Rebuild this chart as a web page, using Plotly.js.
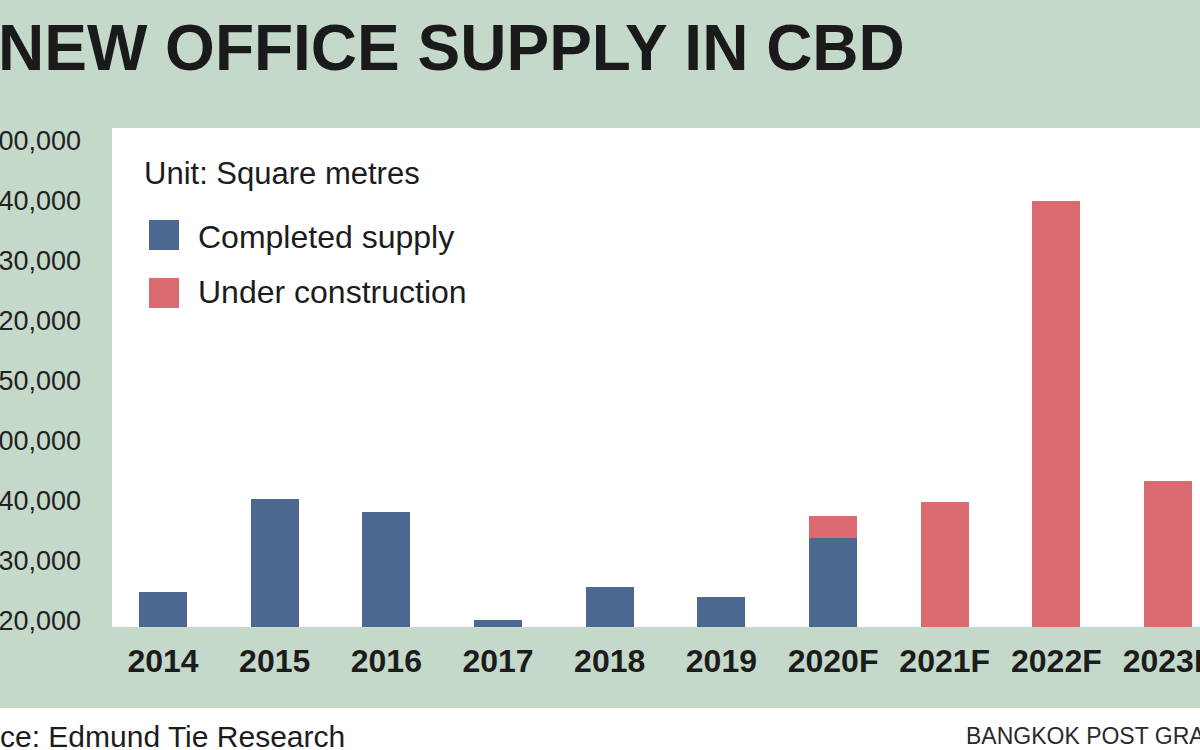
<!DOCTYPE html>
<html>
<head>
<meta charset="utf-8">
<script src="https://cdn.plot.ly/plotly-3.0.1.min.js"></script>
<style>
  html, body { margin: 0; padding: 0; background: #c5d9ca; }
  #chart { width: 1200px; height: 750px; }
</style>
</head>
<body>
<div id="chart"></div>
<script>
// ---- data ----
const categories = ['2014', '2015', '2016', '2017', '2018', '2019', '2020F', '2021F', '2022F', '2023F'];
const completedSupply = [11700, 42800, 38200, 2200, 13300, 10100, 29800, null, null, null];
const underConstruction = [null, null, null, null, null, null, 7100, 41700, 142000, 48700];
const yTickValues = [0, 20000, 40000, 60000, 80000, 100000, 120000, 140000, 160000];
const yTickLabels = ['20,000', '30,000', '40,000', '00,000', '50,000', '20,000', '30,000', '40,000', '00,000'];
const seriesNames = ['Completed supply', 'Under construction'];
const unitLabel = 'Unit: Square metres';
const chartTitle = 'NEW OFFICE SUPPLY IN CBD';
const sourceText = 'ce: Edmund Tie Research';
const creditText = 'BANGKOK POST GRAPHICS';

// ---- layout helpers (pixel -> paper) ----
const ML = 112, MT = 128, MB = 123, W = 1200, H = 750;
const PW = W - ML, PH = H - MT - MB;
const X = px => (px - ML) / PW;
const Y = py => 1 - (py - MT) / PH;

const BLUE = '#4d6890', RED = '#db6b71', GREEN = '#c5d9ca', INK = '#1c1c1c';
const SANS = 'Liberation Sans, Arial, sans-serif';

const traces = [
  { type: 'bar', name: seriesNames[0], x: categories, y: completedSupply,
    marker: { color: BLUE, line: { width: 0 } }, width: 0.43, hoverinfo: 'x+y' },
  { type: 'bar', name: seriesNames[1], x: categories, y: underConstruction,
    marker: { color: RED, line: { width: 0 } }, width: 0.43, hoverinfo: 'x+y' }
];

const layout = {
  width: W, height: H,
  margin: { l: ML, r: 0, t: MT, b: MB, pad: 0 },
  paper_bgcolor: GREEN,
  plot_bgcolor: '#ffffff',
  barmode: 'stack',
  showlegend: false,
  xaxis: {
    type: 'category',
    range: [-0.457, 9.286],
    showgrid: false, zeroline: false, showline: false, ticks: '',
    tickangle: 0,
    tickfont: { family: SANS, size: 32, color: INK, weight: 'bold' },
    ticklabelstandoff: 12,
    fixedrange: true
  },
  yaxis: {
    range: [0, 166200],
    tickvals: yTickValues,
    ticktext: yTickLabels,
    showgrid: false, zeroline: false, showline: false, ticks: '',
    tickfont: { family: SANS, size: 27, color: '#222222' },
    ticklabelstandoff: 30,
    ticklabelshift: -6,
    fixedrange: true
  },
  shapes: [
    { type: 'rect', xref: 'paper', yref: 'paper', layer: 'below',
      x0: X(-20), x1: X(1220), y0: Y(708), y1: Y(770),
      fillcolor: '#ffffff', line: { width: 0 } },
    { type: 'rect', xref: 'paper', yref: 'paper',
      x0: X(149), x1: X(179), y0: Y(250), y1: Y(220),
      fillcolor: BLUE, line: { width: 0 } },
    { type: 'rect', xref: 'paper', yref: 'paper',
      x0: X(149), x1: X(179), y0: Y(308), y1: Y(278),
      fillcolor: RED, line: { width: 0 } }
  ],
  annotations: [
    { text: chartTitle, xref: 'paper', yref: 'paper', x: X(-4), y: Y(48),
      xanchor: 'left', yanchor: 'middle', showarrow: false,
      font: { family: SANS, size: 64, color: '#1a1a1a', weight: 'bold' } },
    { text: unitLabel, xref: 'paper', yref: 'paper', x: X(142), y: Y(173),
      xanchor: 'left', yanchor: 'middle', showarrow: false,
      font: { family: SANS, size: 31, color: INK } },
    { text: seriesNames[0], xref: 'paper', yref: 'paper', x: X(196), y: Y(237),
      xanchor: 'left', yanchor: 'middle', showarrow: false,
      font: { family: SANS, size: 32, color: INK } },
    { text: seriesNames[1], xref: 'paper', yref: 'paper', x: X(196), y: Y(292),
      xanchor: 'left', yanchor: 'middle', showarrow: false,
      font: { family: SANS, size: 32, color: INK } },
    { text: sourceText, xref: 'paper', yref: 'paper', x: X(-2), y: Y(736),
      xanchor: 'left', yanchor: 'middle', showarrow: false,
      font: { family: SANS, size: 30, color: INK } },
    { text: creditText, xref: 'paper', yref: 'paper', x: X(964), y: Y(736),
      xanchor: 'left', yanchor: 'middle', showarrow: false,
      font: { family: SANS, size: 23, color: '#2a2a2a' } }
  ]
};

Plotly.newPlot('chart', traces, layout, { displayModeBar: false, staticPlot: true });
</script>
</body>
</html>
